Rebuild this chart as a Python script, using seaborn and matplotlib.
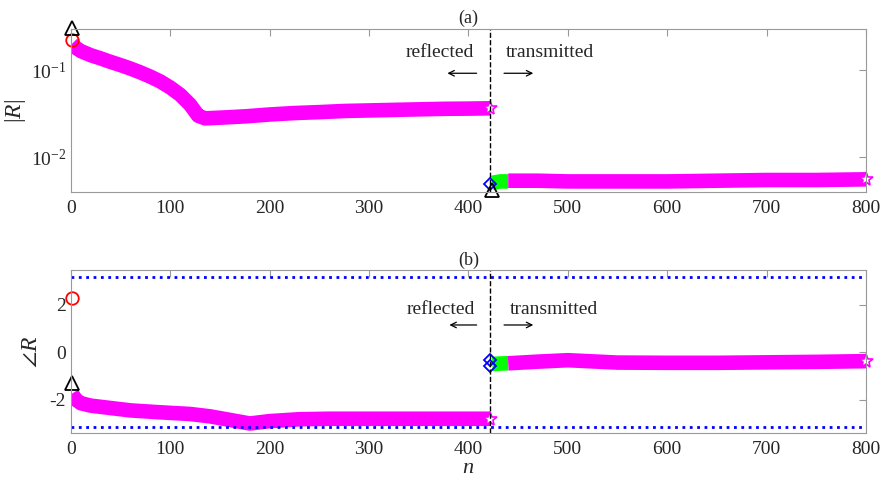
import numpy as np
import pandas as pd
import matplotlib
matplotlib.use("Agg")
import matplotlib.pyplot as plt
import seaborn as sns
from matplotlib.ticker import LogLocator, NullLocator, LogFormatterSciNotation

# reflected part, |R|
n_ref = [1, 5, 10, 20, 30, 40, 50, 60, 70, 80, 90, 100, 110, 120, 128, 135,
         150, 175, 200, 225, 250, 275, 300, 325, 350, 375, 400, 422]
absR_ref = [0.20, 0.18, 0.165, 0.148, 0.136, 0.124, 0.114, 0.104, 0.094, 0.084,
            0.074, 0.063, 0.052, 0.040, 0.030, 0.028, 0.0285, 0.0295, 0.031,
            0.0322, 0.033, 0.034, 0.0345, 0.035, 0.0355, 0.036, 0.0362, 0.0365]

# reflected part, angle R
n_ref_ph = [1, 5, 10, 20, 40, 60, 90, 120, 140, 160, 180, 200, 230, 260, 300, 350, 400, 422]
angR_ref = [-1.75, -2.0, -2.15, -2.25, -2.35, -2.45, -2.53, -2.6, -2.7, -2.85,
            -3.0, -2.9, -2.82, -2.8, -2.8, -2.8, -2.8, -2.8]

# transmitted part (green = first few, magenta = rest)
n_tr_g = [424, 432, 440]
absR_tr_g = [0.0051, 0.0053, 0.0053]
angR_tr_g = [-0.5, -0.48, -0.47]

n_tr = [440, 470, 500, 520, 550, 600, 650, 700, 750, 800]
absR_tr = [0.0054, 0.0054, 0.0053, 0.0053, 0.0053, 0.0053, 0.0054, 0.0055, 0.0055, 0.0056]
angR_tr = [-0.47, -0.4, -0.34, -0.38, -0.44, -0.45, -0.45, -0.43, -0.41, -0.38]

# single markers
n0 = 1
absR_circle, absR_tri = 0.221, 0.30
angR_circle, angR_tri = 2.27, -1.29
n_int = 422
absR_dia, absR_tri2 = 0.0049, 0.0042
angR_dia = [-0.35, -0.6]

sns.set_style("white")
plt.rcParams['font.family'] = ['Liberation Serif', 'DejaVu Serif']
plt.rcParams['mathtext.fontset'] = 'custom'
plt.rcParams['mathtext.rm'] = 'Liberation Serif'
plt.rcParams['mathtext.it'] = 'Liberation Serif:italic'
plt.rcParams['axes.unicode_minus'] = False

gray = '#999999'
txt = '#262626'

fig = plt.figure(figsize=(8.83, 4.79), dpi=100)
ax1 = fig.add_axes([0.0804, 0.599, 0.9003, 0.3405])
ax2 = fig.add_axes([0.0804, 0.096, 0.9003, 0.3403])

lw = 10.5

# ---- (a)
df = pd.DataFrame({'n': n_ref, 'v': absR_ref})
sns.lineplot(data=df, x='n', y='v', ax=ax1, color='#ff00ff', lw=lw, solid_capstyle='butt')
df = pd.DataFrame({'n': n_tr_g, 'v': absR_tr_g})
sns.lineplot(data=df, x='n', y='v', ax=ax1, color='#00ff00', lw=lw, solid_capstyle='butt')
df = pd.DataFrame({'n': n_tr, 'v': absR_tr})
sns.lineplot(data=df, x='n', y='v', ax=ax1, color='#ff00ff', lw=lw, solid_capstyle='butt')
ax1.plot(n_ref[-1], absR_ref[-1], marker='*', ms=10, mfc='white', mec='#ff00ff', mew=1.2, clip_on=False)
ax1.plot(n_tr[-1], absR_tr[-1], marker='*', ms=10, mfc='white', mec='#ff00ff', mew=1.2, clip_on=False)
ax1.plot(n0, absR_circle, 'o', ms=9, mfc='none', mec='red', mew=1.3, clip_on=False)
ax1.plot(n0, absR_tri, '^', ms=10, mfc='none', mec='black', mew=1.3, clip_on=False)
ax1.plot(n_int, absR_dia, 'D', ms=6, mfc='none', mec='blue', mew=1.3, clip_on=False)
ax1.plot(n_int + 2, absR_tri2, '^', ms=10, mfc='none', mec='black', mew=1.3, clip_on=False)
ax1.axvline(n_int, color='black', ls='--', lw=1)

ax1.set_yscale('log')
ax1.set_xlim(0, 800)
ax1.set_ylim(0.004, 0.296)
ax1.yaxis.set_major_locator(LogLocator(base=10, subs=[1.0]))
ax1.yaxis.set_minor_locator(NullLocator())
ax1.yaxis.set_major_formatter(LogFormatterSciNotation())
ax1.set_title('(a)', fontsize=13, pad=4)
ax1.set_ylabel('$|R|$', fontsize=17)
ax1.yaxis.set_label_coords(-0.054, 0.5)
ax1.set_xlabel('')

ax1.text(371, 0.16, 'reflected', ha='center', va='center', fontsize=14)
ax1.text(482, 0.16, 'transmitted', ha='center', va='center', fontsize=14)
ax1.annotate('', xy=(376, 0.092), xytext=(411, 0.092),
             arrowprops=dict(arrowstyle='->', color='black', lw=0.9))
ax1.annotate('', xy=(468, 0.092), xytext=(433, 0.092),
             arrowprops=dict(arrowstyle='->', color='black', lw=0.9))

# ---- (b)
df = pd.DataFrame({'n': n_ref_ph, 'v': angR_ref})
sns.lineplot(data=df, x='n', y='v', ax=ax2, color='#ff00ff', lw=lw, solid_capstyle='butt')
df = pd.DataFrame({'n': n_tr_g, 'v': angR_tr_g})
sns.lineplot(data=df, x='n', y='v', ax=ax2, color='#00ff00', lw=lw, solid_capstyle='butt')
df = pd.DataFrame({'n': n_tr, 'v': angR_tr})
sns.lineplot(data=df, x='n', y='v', ax=ax2, color='#ff00ff', lw=lw, solid_capstyle='butt')
ax2.axhline(np.pi, color='blue', ls=':', lw=2)
ax2.axhline(-np.pi, color='blue', ls=':', lw=2)
ax2.plot(n_ref_ph[-1], angR_ref[-1], marker='*', ms=10, mfc='white', mec='#ff00ff', mew=1.2, clip_on=False)
ax2.plot(n_tr[-1], angR_tr[-1], marker='*', ms=10, mfc='white', mec='#ff00ff', mew=1.2, clip_on=False)
ax2.plot(n0, angR_circle, 'o', ms=9, mfc='none', mec='red', mew=1.3, clip_on=False)
ax2.plot(n0, angR_tri, '^', ms=10, mfc='none', mec='black', mew=1.3, clip_on=False)
for a in angR_dia:
    ax2.plot(n_int, a, 'D', ms=6, mfc='none', mec='blue', mew=1.3, clip_on=False)
ax2.axvline(n_int, color='black', ls='--', lw=1)

ax2.set_xlim(0, 800)
ax2.set_ylim(-3.4, 3.45)
ax2.set_yticks([-2, 0, 2])
ax2.set_yticklabels(['-2', '0', '2'])
ax2.set_title('(b)', fontsize=13, pad=4)
ax2.set_ylabel(r'$\angle R$', fontsize=17)
ax2.yaxis.set_label_coords(-0.037, 0.5)
ax2.set_xlabel('$n$', fontsize=16)
ax2.xaxis.set_label_coords(0.5, -0.16)

ax2.text(372, 1.81, 'reflected', ha='center', va='center', fontsize=14)
ax2.text(486, 1.81, 'transmitted', ha='center', va='center', fontsize=14)
ax2.annotate('', xy=(378, 1.14), xytext=(411, 1.14),
             arrowprops=dict(arrowstyle='->', color='black', lw=0.9))
ax2.annotate('', xy=(468, 1.14), xytext=(433, 1.14),
             arrowprops=dict(arrowstyle='->', color='black', lw=0.9))

for ax in (ax1, ax2):
    ax.set_xticks(range(0, 801, 100))
    for s in ax.spines.values():
        s.set_color(gray)
        s.set_linewidth(0.8)
    ax.tick_params(which='both', direction='in', top=True, right=True,
                   color=gray, labelcolor=txt, labelsize=14, length=5)
    ax.tick_params(axis='x', pad=6)
    ax.grid(False)

fig.savefig('out.png', dpi=100)
